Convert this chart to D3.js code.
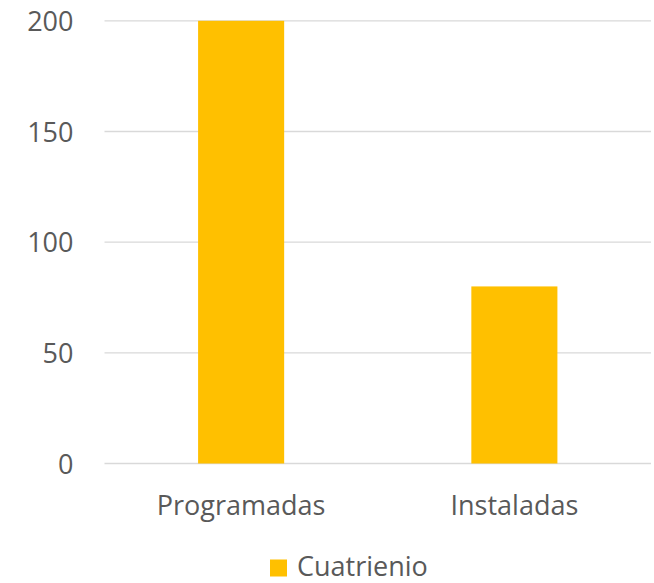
<!DOCTYPE html>
<html><head><meta charset="utf-8">
<script src="https://cdn.jsdelivr.net/npm/d3@7"></script>
<style>
html,body{margin:0;padding:0;background:#fff;}
svg{display:block;}
text{font-family:"Open Sans",sans-serif;fill:#595959;}
</style></head>
<body>
<svg id="chart" width="654" height="583"></svg>
<script>
const categories = ["Programadas", "Instaladas"];
const values = [200, 80];
const seriesName = "Cuatrienio";
const yTicks = [0, 50, 100, 150, 200];

const svg = d3.select("#chart");
const x = d3.scaleBand().domain(categories).range([104.5, 651]).paddingInner(0.685).paddingOuter(0.3425);
const y = d3.scaleLinear().domain([0, 200]).range([463.5, 20.8]);

// gridlines
svg.append("g").selectAll("line").data(yTicks).join("line")
  .attr("x1", 104.5).attr("x2", 651)
  .attr("y1", d => y(d)).attr("y2", d => y(d))
  .attr("stroke", "#d9d9d9").attr("stroke-width", 1.3);

// y axis labels
const yAxis = d3.axisLeft(y).tickValues(yTicks).tickSize(0).tickPadding(0);
const gy = svg.append("g").attr("transform", "translate(73.5,0)").call(yAxis);
gy.select(".domain").remove();
gy.selectAll("text").attr("font-size", 27).attr("font-family", "Open Sans").attr("fill", "#595959").attr("dy", "0.36em");

// bars
svg.append("g").selectAll("rect").data(categories).join("rect")
  .attr("x", d => x(d)).attr("width", x.bandwidth())
  .attr("y", (d, i) => y(values[i])).attr("height", (d, i) => y(0) - y(values[i]))
  .attr("fill", "#FFC000");

// x axis labels
const xAxis = d3.axisBottom(x).tickSize(0).tickPadding(0);
const gx = svg.append("g").attr("transform", "translate(0,515)").call(xAxis);
gx.select(".domain").remove();
gx.selectAll("text").attr("font-size", 27).attr("font-family", "Open Sans").attr("fill", "#595959").attr("dy", 0).attr("y", 0);

// legend
const lg = svg.append("g");
lg.append("rect").attr("x", 270).attr("y", 559.5).attr("width", 17).attr("height", 17).attr("fill", "#FFC000");
lg.append("text").attr("x", 297).attr("y", 576).attr("font-size", 27).text(seriesName);
</script>
</body></html>
